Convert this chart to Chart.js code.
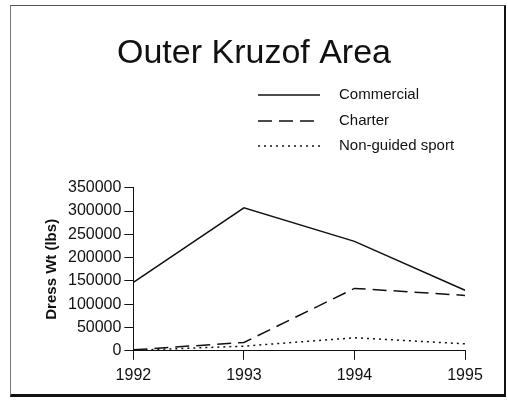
<!DOCTYPE html>
<html>
<head>
<meta charset="utf-8">
<script src="https://cdn.jsdelivr.net/npm/chart.js@4.4.0/dist/chart.umd.min.js"></script>
<style>
  body { margin: 0; background: #fff; }
  #wrap { position: relative; width: 508px; height: 405px; }
  #frame {
    position: absolute; left: 10px; top: 5px; width: 493px; height: 388px;
    border-top: 1px solid #555; border-left: 1px solid #777;
    border-right: 2px solid #111; border-bottom: 3px solid #111;
    pointer-events: none;
  }
</style>
</head>
<body>
<div id="wrap">
  <canvas id="chart1" width="508" height="405"></canvas>
  <div id="frame"></div>
</div>
<script>
var years = ["1992", "1993", "1994", "1995"];
var commercial = [147000, 307000, 235000, 130000];
var charter = [2000, 18000, 134000, 119000];
var nonGuided = [1000, 10000, 28000, 15000];
var yTicks = [0, 50000, 100000, 150000, 200000, 250000, 300000, 350000];

var ink = '#111';
var fam = "'Liberation Sans', Arial, sans-serif";

// legend drawn as a stacked list under the title, like the original
var sideLegend = {
  id: 'sideLegend',
  afterDraw: function(chart) {
    var ctx = chart.ctx;
    var rows = [95, 121, 146];
    ctx.save();
    chart.data.datasets.forEach(function(ds, i) {
      var y = rows[i];
      ctx.strokeStyle = ink;
      ctx.lineWidth = 1.3;
      ctx.setLineDash(ds.borderDash || []);
      ctx.beginPath();
      ctx.moveTo(258, y);
      ctx.lineTo(320, y);
      ctx.stroke();
      ctx.setLineDash([]);
      ctx.fillStyle = ink;
      ctx.font = '15px ' + fam;
      ctx.textBaseline = 'middle';
      ctx.fillText(ds.label, 339, y);
    });
    ctx.restore();
  }
};

new Chart("chart1", {
  type: "line",
  data: {
    labels: years,
    datasets: [{
      label: 'Commercial',
      data: commercial,
      borderColor: ink,
      borderWidth: 1.5,
      pointRadius: 0,
      tension: 0
    },
    {
      label: 'Charter',
      data: charter,
      borderColor: ink,
      borderWidth: 1.5,
      borderDash: [14, 7],
      pointRadius: 0,
      tension: 0
    },
    {
      label: 'Non-guided sport',
      data: nonGuided,
      borderColor: ink,
      borderWidth: 1.5,
      borderDash: [2, 4],
      pointRadius: 0,
      tension: 0
    }]
  },
  options: {
    responsive: false,
    animation: false,
    devicePixelRatio: 1,
    layout: { padding: { left: 43, right: 43, top: 0, bottom: 14 } },
    plugins: {
      legend: { display: false },
      tooltip: { enabled: false },
      title: {
        display: true,
        text: 'Outer Kruzof Area',
        color: ink,
        font: { family: fam, size: 34, weight: 'normal' },
        padding: { top: 33, bottom: 114 }
      }
    },
    scales: {
      x: {
        grid: { drawOnChartArea: false, drawTicks: true, tickLength: 9, color: ink },
        border: { color: ink, width: 1 },
        ticks: { color: ink, padding: 6, font: { family: fam, size: 16 } }
      },
      y: {
        min: 0,
        max: 350000,
        afterBuildTicks: function(axis) {
          axis.ticks = yTicks.map(function(v) { return { value: v }; });
        },
        grid: { drawOnChartArea: false, drawTicks: true, tickLength: 9, color: ink },
        border: { color: ink, width: 1 },
        ticks: {
          color: ink,
          padding: 3,
          font: { family: fam, size: 16 },
          callback: function(v) { return String(v); }
        },
        title: {
          display: true,
          text: 'Dress Wt (lbs)',
          color: ink,
          font: { family: fam, size: 15, weight: 'bold' },
          padding: { top: 0, bottom: 4 }
        }
      }
    }
  },
  plugins: [sideLegend]
});
</script>
</body>
</html>
